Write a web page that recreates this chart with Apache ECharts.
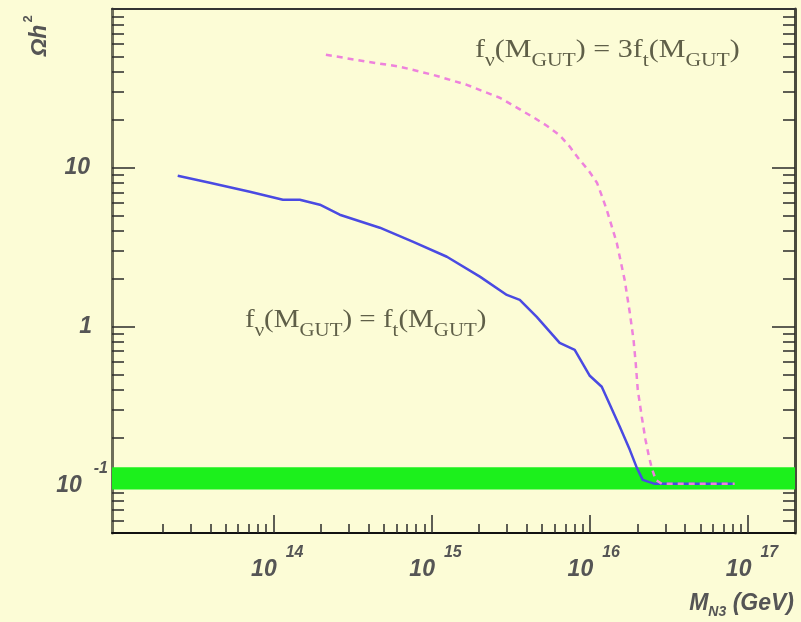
<!DOCTYPE html>
<html>
<head>
<meta charset="utf-8">
<script src="https://cdn.jsdelivr.net/npm/echarts@6/dist/echarts.min.js"></script>
<style>
  html, body { margin: 0; padding: 0; background: #fcfcd6; }
  #chart { width: 801px; height: 622px; }
</style>
</head>
<body>
<div id="chart"></div>
<script>
// Relic density vs. heavy right-handed neutrino mass M_N3 (GeV)

// f_nu(M_GUT) = f_t(M_GUT)
const massEqual  = [2.49e13, 3.97e13, 7.11e13, 1.15e14, 1.47e14, 1.97e14, 2.63e14, 4.71e14, 7.60e14,
                    1.25e15, 2.02e15, 2.99e15, 3.61e15, 4.62e15, 6.45e15, 8.03e15, 1.00e16, 1.19e16,
                    1.34e16, 1.55e16, 1.79e16, 1.98e16, 2.16e16, 2.57e16, 8.0e16];
const omegaEqual = [8.91, 8.05, 7.06, 6.29, 6.29, 5.85, 5.06, 4.19, 3.42,
                    2.75, 2.06, 1.58, 1.47, 1.15, 0.789, 0.713, 0.489, 0.417,
                    0.321, 0.233, 0.167, 0.129, 0.108, 0.102, 0.102];

// f_nu(M_GUT) = 3 f_t(M_GUT)
const massTriple  = [2.15e14, 3.90e14, 6.30e14, 1.02e15, 1.67e15, 2.70e15, 4.36e15, 5.35e15,
                     6.45e15, 7.46e15, 8.63e15, 9.84e15, 1.11e16, 1.19e16, 1.28e16, 1.48e16,
                     1.66e16, 1.79e16, 1.89e16, 1.95e16, 2.01e16, 2.13e16, 2.25e16, 2.36e16,
                     2.46e16, 2.61e16, 2.85e16, 8.23e16];
const omegaTriple = [51.5, 46.6, 43.3, 38.5, 33.3, 27.6, 20.9, 18.4,
                     16.0, 13.6, 11.2, 9.58, 8.05, 6.67, 5.43, 3.37,
                     1.97, 1.22, 0.824, 0.590, 0.399, 0.270, 0.193, 0.153,
                     0.129, 0.108, 0.102, 0.102];

// WMAP-preferred band
const wmapBand = [0.094, 0.13];

// Axis ranges and tick positions
const xRange = [9.57e12, 1.98e17];
const yRange = [0.05, 100];
const xMajorTicks = [1e14, 1e15, 1e16, 1e17];
const xMinorDecades = [1e13, 1e14, 1e15, 1e16];
const yMajorTicks = [0.1, 1, 10];
const yMinorDecades = [0.01, 0.1, 1, 10];
const minorSteps = [2, 3, 4, 5, 6, 7, 8, 9];

function minorTicks(decades, lo, hi) {
  const out = [];
  decades.forEach(d => minorSteps.forEach(m => {
    const v = Number((m * d).toPrecision(3));
    if (v > lo && v < hi) out.push(v);
  }));
  return out;
}
const xMinorTicks = minorTicks(xMinorDecades, xRange[0], xRange[1]);
const yMinorTicks = minorTicks(yMinorDecades, yRange[0], yRange[1]);

const pairs = (xs, ys) => xs.map((x, i) => [x, ys[i]]);

const labelFont = 'Liberation Sans, Arial, sans-serif';
const labelColor = '#555';
const tickColor = '#2a2a2a';
const serifFont = 'Liberation Serif, Times New Roman, serif';
const noteColor = '#5f5f48';

function powRich(gap) {
  return {
    b:  { fontFamily: labelFont, fontSize: 23, fontWeight: 'bold', fontStyle: 'italic', color: labelColor, lineHeight: 50, verticalAlign: 'middle' },
    s:  { fontFamily: labelFont, fontSize: 16, fontWeight: 'bold', fontStyle: 'italic', color: labelColor, lineHeight: 12, verticalAlign: 'top', padding: [0, 0, 0, gap] },
    p18: { width: 18 },
    p16: { width: 16 }
  };
}

function yLabel(v) {
  if (v < 0.5) return '{b|10}{s|-1}';
  if (v < 5) return '{b|1}{p16|}';
  return '{b|10}{p18|}';
}
function xLabel(v) {
  const e = Math.round(Math.log10(v));
  return '{b|10}{s|' + e + '}';
}

function baseAxis(extra) {
  return Object.assign({
    type: 'log', logBase: 10,
    splitLine: { show: false },
    axisLine: { show: false, onZero: false },
    axisTick: { show: false },
    axisLabel: { show: false }
  }, extra);
}

function noteRich() {
  return {
    m: { fontFamily: serifFont, fontSize: 25, fill: noteColor, lineHeight: 40, verticalAlign: 'middle' },
    n: { fontFamily: serifFont, fontSize: 18, fill: noteColor, lineHeight: 18, verticalAlign: 'bottom' }
  };
}

const chart = echarts.init(document.getElementById('chart'), null, { renderer: 'canvas' });

chart.setOption({
  backgroundColor: '#fcfcd6',
  animation: false,
  grid: { left: 112, right: 6, top: 9, bottom: 89, containLabel: false, outerBoundsMode: 'none' },
  xAxis: [
    baseAxis({
      position: 'bottom', min: xRange[0], max: xRange[1],
      axisLine: { show: true, onZero: false, lineStyle: { color: '#111', width: 2 } },
      axisTick: { show: true, inside: true, length: 18, customValues: xMajorTicks, lineStyle: { color: tickColor, width: 1.5 } },
      axisLabel: { show: true, customValues: xMajorTicks, margin: 12, formatter: xLabel, rich: powRich(9), padding: [0, 0, 0, 8] }
    }),
    baseAxis({
      position: 'bottom', min: xRange[0], max: xRange[1],
      axisTick: { show: true, inside: true, length: 9, customValues: xMinorTicks, lineStyle: { color: tickColor, width: 1.5 } }
    }),
    baseAxis({
      position: 'top', min: xRange[0], max: xRange[1],
      axisLine: { show: true, onZero: false, lineStyle: { color: '#333', width: 2 } }
    })
  ],
  yAxis: [
    baseAxis({
      position: 'left', min: yRange[0], max: yRange[1],
      axisLine: { show: true, onZero: false, lineStyle: { color: '#6e6e5a', width: 3 } },
      axisTick: { show: true, inside: true, length: 23, customValues: yMajorTicks, lineStyle: { color: tickColor, width: 1.5 } },
      axisLabel: { show: true, customValues: yMajorTicks, margin: 4, formatter: yLabel, rich: powRich(12), align: 'right' }
    }),
    baseAxis({
      position: 'left', min: yRange[0], max: yRange[1],
      axisTick: { show: true, inside: true, length: 12, customValues: yMinorTicks, lineStyle: { color: tickColor, width: 1.5 } }
    }),
    baseAxis({
      position: 'right', min: yRange[0], max: yRange[1],
      axisLine: { show: true, onZero: false, lineStyle: { color: '#4a4a3e', width: 3 } },
      axisTick: { show: true, inside: true, length: 23, customValues: yMajorTicks, lineStyle: { color: tickColor, width: 1.5 } }
    }),
    baseAxis({
      position: 'right', min: yRange[0], max: yRange[1],
      axisTick: { show: true, inside: true, length: 12, customValues: yMinorTicks, lineStyle: { color: tickColor, width: 1.5 } }
    })
  ],
  series: [
    {
      name: 'fnu = ft',
      type: 'line',
      xAxisIndex: 0, yAxisIndex: 0,
      data: pairs(massEqual, omegaEqual),
      showSymbol: false,
      smooth: false,
      lineStyle: { color: '#4a4ae2', width: 2.5, join: 'round' },
      z: 3,
      markArea: {
        silent: true,
        itemStyle: { color: '#1cf01c', opacity: 1 },
        data: [[{ yAxis: wmapBand[0] }, { yAxis: wmapBand[1] }]]
      }
    },
    {
      name: 'fnu = 3ft',
      type: 'line',
      xAxisIndex: 0, yAxisIndex: 0,
      data: pairs(massTriple, omegaTriple),
      showSymbol: false,
      smooth: false,
      lineStyle: { color: '#ee82dc', width: 2.5, type: [6, 5] },
      z: 4
    }
  ],
  graphic: [
    {
      type: 'text', x: 40, y: 36, rotation: Math.PI / 2,
      style: {
        text: '{a|Ωh}{s|2}', align: 'center', verticalAlign: 'middle',
        rich: {
          a: { fontFamily: labelFont, fontSize: 23, fontWeight: 'bold', fontStyle: 'italic', fill: labelColor, lineHeight: 36, verticalAlign: 'middle' },
          s: { fontFamily: labelFont, fontSize: 13, fontWeight: 'bold', fill: labelColor, lineHeight: 12, verticalAlign: 'top', padding: [0, 0, 0, 2] }
        }
      }
    },
    {
      type: 'text', x: 794, y: 589,
      style: {
        text: '{m|M}{n|N3}{m| (GeV)}', align: 'right', verticalAlign: 'top',
        rich: {
          m: { fontFamily: labelFont, fontSize: 23, fontWeight: 'bold', fontStyle: 'italic', fill: labelColor, lineHeight: 30, verticalAlign: 'middle' },
          n: { fontFamily: labelFont, fontSize: 14, fontWeight: 'bold', fontStyle: 'italic', fill: labelColor, lineHeight: 14, verticalAlign: 'bottom' }
        }
      }
    },
    {
      type: 'text', x: 475, y: 30, scaleX: 1.2,
      style: {
        text: '{m|f}{n|ν}{m|(M}{n|GUT}{m|) = 3f}{n|t}{m|(M}{n|GUT}{m|)}', align: 'left', verticalAlign: 'top',
        rich: noteRich()
      }
    },
    {
      type: 'text', x: 245, y: 300, scaleX: 1.16,
      style: {
        text: '{m|f}{n|ν}{m|(M}{n|GUT}{m|) = f}{n|t}{m|(M}{n|GUT}{m|)}', align: 'left', verticalAlign: 'top',
        rich: noteRich()
      }
    }
  ]
});
</script>
</body>
</html>
